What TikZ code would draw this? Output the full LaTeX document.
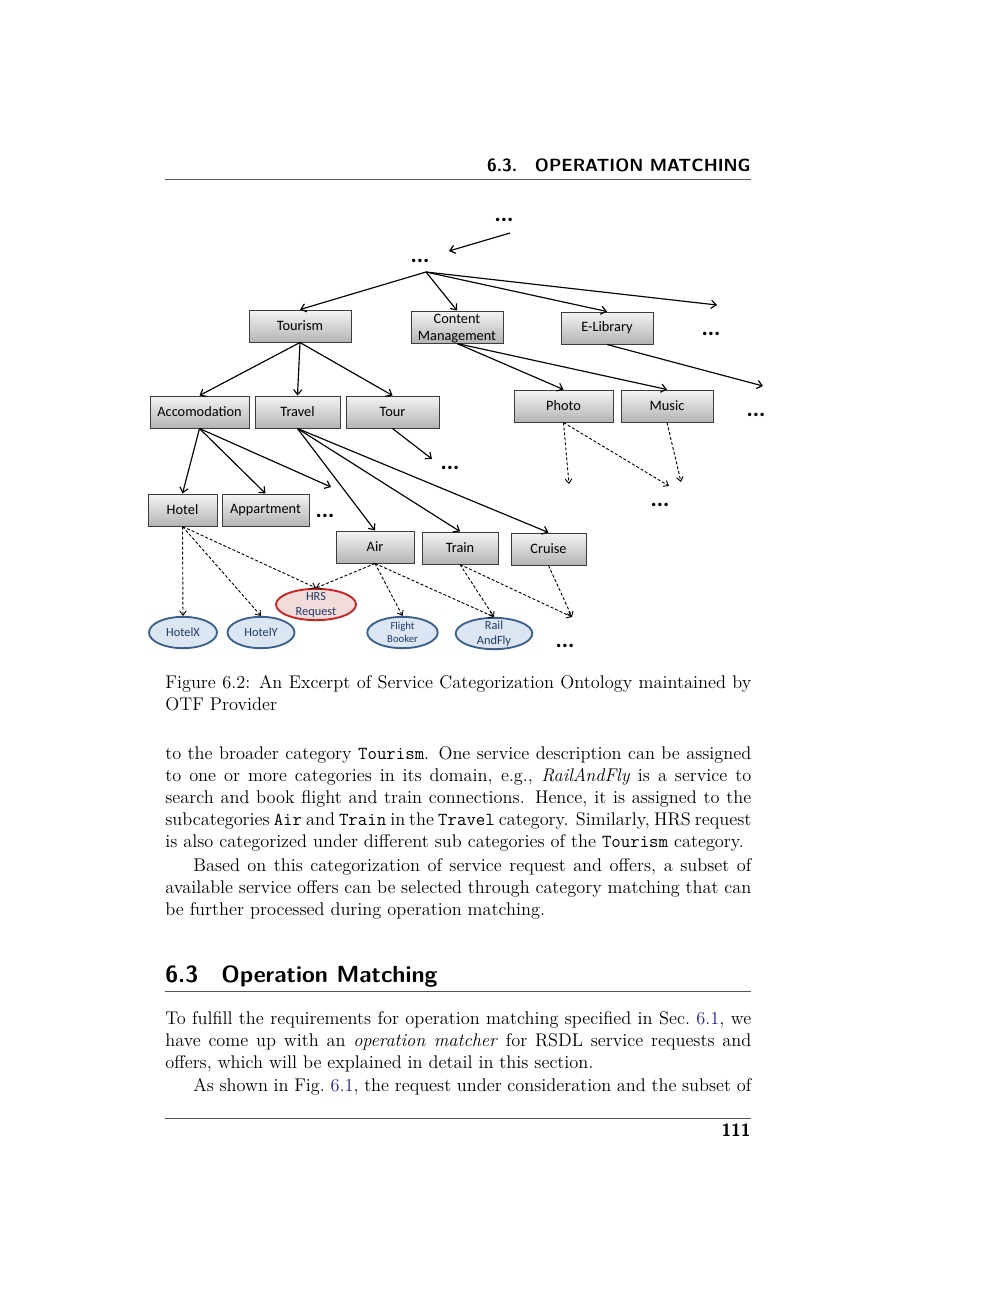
\documentclass[tikz,border=0pt]{standalone}
\usepackage{fontspec}
\newfontfamily\diafont{Carlito}
\usetikzlibrary{arrows.meta,shapes.geometric}
\definecolor{boxdraw}{HTML}{3C3C3C}
\definecolor{boxtop}{HTML}{F4F4F4}
\definecolor{boxbot}{HTML}{B4B4B4}
\definecolor{ellfill}{HTML}{DCE6F2}
\definecolor{elldraw}{HTML}{3A5F8F}
\definecolor{elltext}{HTML}{1F3864}
\definecolor{hrsfill}{HTML}{F2DCDB}
\definecolor{hrsdraw}{HTML}{CC1F1F}
\definecolor{lnk}{rgb}{0.12,0.12,0.62}
\definecolor{rulegray}{HTML}{555555}
\newcommand{\lk}[1]{\textcolor{lnk}{#1}}
\newlength{\fullw}\setlength{\fullw}{351.6pt}
\newlength{\indw}\setlength{\indw}{334.8pt}
\begin{document}
\begin{tikzpicture}[x=0.6pt,y=-0.6pt,
  cat/.style={draw=boxdraw, line width=0.6pt, top color=boxtop, bottom color=boxbot,
    font=\diafont\fontsize{8.6}{10.2}\selectfont, inner sep=0pt, minimum height=19.2pt, align=center},
  inst/.style={ellipse, draw=elldraw, line width=1.1pt, fill=ellfill, inner sep=0pt, minimum height=18.8pt},
  hrs/.style={inst, draw=hrsdraw, fill=hrsfill},
  lbl/.style={text=elltext, align=center, inner sep=0pt},
  arr/.style={-{Straight Barb[length=3pt,width=5pt]}, line width=0.7pt},
  darr/.style={-{Straight Barb[length=2.6pt,width=4pt]}, line width=0.55pt, dash pattern=on 1.8pt off 1.2pt},
  dots/.style={font=\diafont\bfseries\fontsize{14}{14}\selectfont, inner sep=0pt, anchor=base},
  txt/.style={anchor=base west, inner sep=0pt, font=\fontsize{11}{13.6}\selectfont},
  hdr/.style={inner sep=0pt, font=\sffamily\bfseries\fontsize{10.6}{13}\selectfont}
]
\useasboundingbox (0,0) rectangle (1000,1294);
\fill[white] (0,0) rectangle (1000,1294);

% page header
\node[hdr, anchor=base east] (head) at (751,171) {6.3.\quad OPERATION MATCHING};
\coordinate (hr1) at (165,179); \coordinate (hr2) at (751,179);
\draw[rulegray, line width=0.5pt] (hr1) -- (hr2);

% ---------- diagram ----------
\node[dots] (d1) at (504,221) {...};
\node[dots] (d2) at (420,262) {...};
\node[dots] (d3) at (711,335) {...};
\node[dots] (d4) at (756,416) {...};
\node[dots] (d5) at (450,469) {...};
\node[dots] (d6) at (660,506) {...};
\node[dots] (d7) at (325,517) {...};
\node[dots] (d8) at (565,647) {...};

\node[cat, minimum width=61.2pt] (tourism) at (300,326) {Tourism};
\node[cat, minimum width=55.2pt] (content) at (457,327) {\raisebox{-3pt}[0pt][0pt]{\begin{tabular}{@{}c@{}}Content\\Management\end{tabular}}};
\node[cat, minimum width=55.2pt] (elib) at (607,328) {E-Library};

\node[cat, minimum width=59.4pt] (accom) at (199.5,412) {Accomodation};
\node[cat, minimum width=51pt] (travel) at (297.5,412) {Travel};
\node[cat, minimum width=55.8pt] (tour) at (392.5,412) {Tour};
\node[cat, minimum width=59.4pt] (photo) at (563.5,406) {Photo};
\node[cat, minimum width=55.2pt] (music) at (667,406) {Music};

\node[cat, minimum width=41.4pt] (hotel) at (182.5,510) {Hotel};
\node[cat, minimum width=52.2pt] (appart) at (265.5,510) {Appartment};
\node[cat, minimum width=46.8pt] (air) at (375,547) {Air};
\node[cat, minimum width=45.6pt] (train) at (460,548) {Train};
\node[cat, minimum width=45pt] (cruise) at (548.5,549) {Cruise};

\node[inst, minimum width=40.8pt, label={[lbl, font=\diafont\fontsize{7.4}{8.6}\selectfont]center:HotelX}] (hotelx) at (183,632.5) {};
\node[inst, minimum width=40.2pt, label={[lbl, font=\diafont\fontsize{7.4}{8.6}\selectfont]center:HotelY}] (hotely) at (261,632.5) {};
\node[hrs, minimum width=48pt, label={[lbl, font=\diafont\fontsize{7.4}{9}\selectfont]center:HRS\\Request}] (hrsreq) at (316,604.5) {};
\node[inst, minimum width=42.3pt, label={[lbl, font=\diafont\fontsize{6.4}{7.8}\selectfont]center:Flight\\Booker}] (flight) at (402.5,632.5) {};
\node[inst, minimum width=46pt, label={[lbl, font=\diafont\fontsize{7.4}{9}\selectfont]center:Rail\\AndFly}] (rail) at (494,633.5) {};

% free ends
\coordinate (t1) at (510,233);
\coordinate (t2) at (449,251);
\coordinate (hub) at (426,272);
\coordinate (e1) at (717,305);
\coordinate (e2) at (763,386);
\coordinate (e3) at (432,459);
\coordinate (e4) at (569,484);
\coordinate (e5) at (669,486);
\coordinate (e6) at (681,482);
\coordinate (e7) at (331,487);
\coordinate (e8) at (572,617);

\draw[arr] (t1) -- (t2);
\draw[arr] (hub) -- (tourism.north);
\draw[arr] (hub) -- (content.north);
\draw[arr] (hub) -- (elib.north);
\draw[arr] (hub) -- (e1);

\draw[arr] (tourism.south) -- (accom.north);
\draw[arr] (tourism.south) -- (travel.north);
\draw[arr] (tourism.south) -- (tour.north);
\draw[arr] (content.south) -- (photo.north);
\draw[arr] (content.south) -- (music.north);
\draw[arr] (elib.south) -- (e2);
\draw[arr] (tour.south) -- (e3);

\draw[arr] (accom.south) -- (hotel.north);
\draw[arr] (accom.south) -- (appart.north);
\draw[arr] (accom.south) -- (e7);
\draw[arr] (travel.south) -- (air.north);
\draw[arr] (travel.south) -- (train.north);
\draw[arr] (travel.south) -- (cruise.north);

\draw[darr] (photo.south) -- (e4);
\draw[darr] (photo.south) -- (e5);
\draw[darr] (music.south) -- (e6);

\draw[darr] (hotel.south) -- (hotelx.north);
\draw[darr] (hotel.south) -- (hotely.north);
\draw[darr] (hotel.south) -- (hrsreq.north);
\draw[darr] (air.south) -- (hrsreq.north);
\draw[darr] (air.south) -- (flight.north);
\draw[darr] (air.south) -- (rail.north);
\draw[darr] (train.south) -- (rail.north);
\draw[darr] (train.south) -- (e8);
\draw[darr] (cruise.south) -- (e8);

% ---------- caption and text ----------
\node[txt] (cap1) at (165,688) {\hbox to \fullw{Figure 6.2: An Excerpt of Service Categorization Ontology maintained by}};
\node[txt] (cap2) at (165,710) {OTF Provider};

\node[txt] (p1a) at (165,759) {\hbox to \fullw{to the broader category \texttt{Tourism}. One service description can be assigned}};
\node[txt] (p1b) at (165,781) {\hbox to \fullw{to one or more categories in its domain, e.g., \textit{RailAndFly} is a service to}};
\node[txt] (p1c) at (165,803) {\hbox to \fullw{search and book flight and train connections. Hence, it is assigned to the}};
\node[txt] (p1d) at (165,825) {\hbox to \fullw{subcategories \texttt{Air} and \texttt{Train} in the \texttt{Travel} category. Similarly, HRS request}};
\node[txt] (p1e) at (165,847) {is also categorized under different sub categories of the \texttt{Tourism} category.};

\node[txt] (p2a) at (193,871) {\hbox to \indw{Based on this categorization of service request and offers, a subset of}};
\node[txt] (p2b) at (165,893) {\hbox to \fullw{available service offers can be selected through category matching that can}};
\node[txt] (p2c) at (165,915) {be further processed during operation matching.};

\node[hdr, anchor=base west, font=\sffamily\bfseries\fontsize{14}{17}\selectfont] (sec) at (165,982) {6.3\quad Operation Matching};
\coordinate (sr1) at (165,991); \coordinate (sr2) at (751,991);
\draw[rulegray, line width=0.5pt] (sr1) -- (sr2);

\node[txt] (p3a) at (165,1024) {\hbox to \fullw{To fulfill the requirements for operation matching specified in Sec.~\lk{6.1}, we}};
\node[txt] (p3b) at (165,1046) {\hbox to \fullw{have come up with an \textit{operation matcher} for RSDL service requests and}};
\node[txt] (p3c) at (165,1068) {offers, which will be explained in detail in this section.};
\node[txt] (p3d) at (193,1091) {\hbox to \indw{As shown in Fig.~\lk{6.1}, the request under consideration and the subset of}};

\coordinate (br1) at (165,1118); \coordinate (br2) at (751,1118);
\draw[rulegray, line width=0.5pt] (br1) -- (br2);
\node[hdr, anchor=base east] (pnum) at (751,1136) {111};
\end{tikzpicture}
\end{document}
